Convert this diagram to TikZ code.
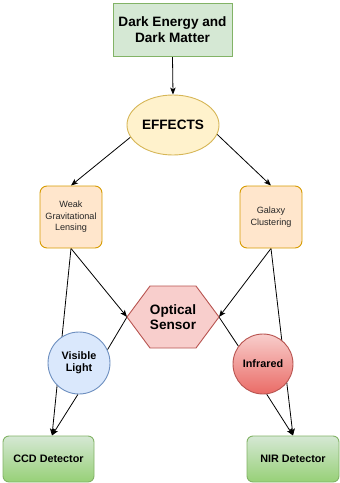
\documentclass[tikz,border=0pt]{standalone}
\usepackage{fontspec}
\setmainfont{Liberation Sans}
\usetikzlibrary{arrows.meta,shapes.geometric}
\pgfdeclarelayer{edges}
\pgfsetlayers{edges,main}
\definecolor{grnF}{HTML}{D5E8D4}
\definecolor{grnS}{HTML}{82B366}
\definecolor{grnD}{HTML}{97D077}
\definecolor{ylwF}{HTML}{FFF2CC}
\definecolor{ylwS}{HTML}{D6B656}
\definecolor{orgF}{HTML}{FFE6CC}
\definecolor{orgS}{HTML}{D79B00}
\definecolor{redF}{HTML}{F8CECC}
\definecolor{redS}{HTML}{B85450}
\definecolor{redD}{HTML}{EA6B66}
\definecolor{bluF}{HTML}{DAE8FC}
\definecolor{bluS}{HTML}{6C8EBF}
\tikzset{
  shape base/.style={line width=0.9pt, inner sep=0pt, align=center, text=black},
  bigbold/.style={font=\fontsize{13.6}{15.6}\selectfont\bfseries},
  smallbold/.style={font=\fontsize{10.8}{12.2}\selectfont\bfseries},
  smallreg/.style={font=\fontsize{9.1}{11.6}\selectfont, text=black!85},
  topbox/.style={shape base, bigbold, draw=grnS, fill=grnF,
    minimum width=119pt, minimum height=53pt},
  effect/.style={shape base, bigbold, ellipse, draw=ylwS, fill=ylwF,
    minimum width=92pt, minimum height=60pt},
  probe/.style={shape base, smallreg, rounded corners=7pt, draw=orgS, fill=orgF,
    minimum width=62pt, minimum height=62pt},
  band/.style={shape base, smallbold, circle, minimum size=62pt},
  detector/.style={shape base, smallbold, rounded corners=6pt, draw=grnS,
    top color=grnF, bottom color=grnD, minimum width=91pt, minimum height=46pt},
  link/.style={line width=0.8pt, -{Stealth[length=7pt,width=5.5pt,inset=1.8pt]}},
  plain link/.style={line width=0.8pt},
}
\begin{document}
\begin{tikzpicture}[x=1pt,y=-1pt]
\useasboundingbox (0,0) rectangle (340,483);

% sources and effects
\node[topbox] (dedm) at (172.5,29.5) {Dark Energy and\\Dark Matter};
\node[effect] (eff) at (173,125) {EFFECTS};
\node[probe] (wgl) at (71,217) {Weak\\Gravitational\\Lensing};
\node[probe] (gc) at (271,217) {Galaxy\\Clustering};

% optical sensor hexagon
\coordinate (osl) at (127,317);
\coordinate (osr) at (219,317);
\filldraw[line width=0.9pt, draw=redS, fill=redF]
  (osl) -- (150,286) -- (196,286) -- (osr) -- (196,348) -- (150,348) -- cycle;
\node[shape base, bigbold] (os) at (173,317) {Optical\\Sensor};

% wavelength bands
\node[band, draw=bluS, fill=bluF] (vl) at (79,363) {Visible\\Light};
\node[band, draw=redS, top color=redF, bottom color=redD, minimum size=60pt] (ir) at (263,364) {Infrared};

% detectors
\node[detector] (ccd) at (48.5,459) {CCD Detector};
\node[detector, minimum width=92pt] (nir) at (293,459) {NIR Detector};
\coordinate (ccdin) at (52,435.5);
\coordinate (nirin) at (293,435.5);

\begin{pgfonlayer}{edges}
  \draw[link] (dedm.south) -- (eff.north);
  \draw[link] (eff.196) -- (wgl.north);
  \draw[link] (eff.348) -- (gc.north);
  \draw[link] (wgl.south) -- (osl);
  \draw[link] (gc.south) -- (osr);
  \draw[link] (wgl.south) -- (ccdin);
  \draw[link] (gc.south) -- (nirin);
  \draw[plain link] (osl) -- (vl.25);
  \draw[plain link] (osr) -- (ir.144);
  \draw[link] (vl.-92) -- (ccdin);
  \draw[link] (ir.-83) -- (nirin);
\end{pgfonlayer}
\end{tikzpicture}
\end{document}
